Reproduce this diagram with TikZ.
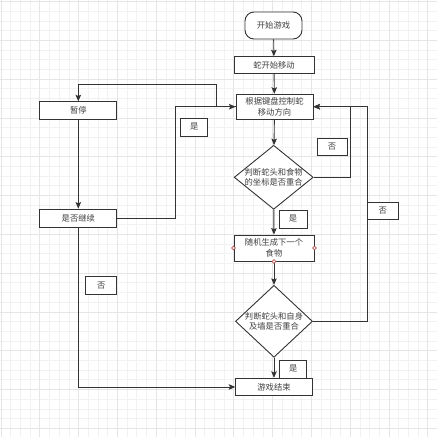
\documentclass[tikz,border=0pt]{standalone}
\usepackage{fontspec}
\newfontfamily\cjk{Noto Sans CJK SC}
\usetikzlibrary{arrows.meta,shapes.geometric}
\definecolor{ln}{HTML}{333333}
\definecolor{tx}{HTML}{404040}
\definecolor{gminor}{HTML}{F2F2F2}
\definecolor{gmajor}{HTML}{E5E5E5}
\definecolor{dotc}{HTML}{B85450}
\begin{document}
\begin{tikzpicture}[x=1pt,y=-1pt,
  txt/.style={text=tx,font=\cjk\fontsize{8.3}{10.4}\selectfont,align=center},
  box/.style={txt,draw=ln,fill=white,line width=0.9pt,inner sep=0pt},
  startbox/.style={box,rounded corners=9pt,minimum width=57pt,minimum height=27pt},
  procbox/.style={box,minimum width=78pt,minimum height=17pt},
  lbl/.style={box,minimum width=28pt,minimum height=18pt},
  dia/.style={diamond,draw=ln,fill=white,line width=0.9pt,inner sep=0pt,aspect=1.2},
  arr/.style={draw=ln,line width=0.9pt,-{Stealth[length=6.5pt,width=5.5pt,inset=1.2pt]}},
  dot/.style={draw=dotc,fill=white,line width=0.7pt}]
\useasboundingbox (0,0) rectangle (437,437);
\fill[white] (0,0) rectangle (437,437);
% grid
\foreach \k in {0,...,45}{
  \draw[gminor,line width=0.8pt] (1+\k*9.7,0) -- (1+\k*9.7,437);
  \draw[gminor,line width=0.8pt] (0,1.5+\k*9.7) -- (437,1.5+\k*9.7);
}
\foreach \k in {0,4,...,44}{
  \draw[gmajor,line width=0.8pt] (1+\k*9.7,0) -- (1+\k*9.7,437);
  \draw[gmajor,line width=0.8pt] (0,1.5+\k*9.7) -- (437,1.5+\k*9.7);
}
% nodes
\node[startbox] (start) at (273.5,25.5) {开始游戏};
\node[procbox,minimum width=80pt,minimum height=16.5pt] (move) at (274,65) {蛇开始移动};
\node[procbox,minimum width=77pt,minimum height=25pt] (ctrl) at (274.5,106.7) {根据键盘控制蛇\\移动方向};
\node[dia,minimum width=79pt,minimum height=64pt,label={[txt,font=\cjk\fontsize{8.3}{9.8}\selectfont]center:判断蛇头和食物\\的坐标是否重合}] (d1) at (273.7,177.3) {};
\node[procbox,minimum width=80pt,minimum height=26pt] (rand) at (274,248) {随机生成下一个\\食物};
\node[dia,minimum width=77pt,minimum height=72pt,label={[txt,font=\cjk\fontsize{8.3}{10}\selectfont]center:判断蛇头和自身\\及墙是否重合}] (d2) at (274,321.3) {};
\node[procbox,minimum width=76.5pt,minimum height=17.5pt] (end) at (274,387) {游戏结束};
\node[procbox,minimum width=77pt,minimum height=17.5pt] (pause) at (78.3,110.5) {暂停};
\node[procbox,minimum width=77pt,minimum height=18.5pt] (cont) at (78.3,218.3) {是否继续};
% helper coordinates
\coordinate (r1) at (350.8,150);
\coordinate (r2) at (367.5,150);
\coordinate (p1) at (216.7,84);
\coordinate (c1) at (175.7,160);
% connectors
\draw[arr] (start) -- (move);
\draw[arr] (move) -- (ctrl);
\draw[arr] (ctrl) -- (d1);
\draw[arr] (d1) -- (rand);
\draw[arr] (rand) -- (d2);
\draw[arr] (d2) -- (end);
\draw[arr] (d1.east) -| (r1) |- (ctrl.east);
\draw[arr] (d2.east) -| (r2) |- (ctrl.east);
\draw[arr] (ctrl.west) -| (p1) -| (pause.north);
\draw[arr] (pause) -- (cont);
\draw[arr] (cont.east) -| (c1) |- (ctrl.west);
\draw[arr] (cont.south) |- (end.west);
% labels
\node[lbl,minimum width=27pt] (ly1) at (194.3,127) {是};
\node[lbl,minimum width=30pt,minimum height=17.5pt] (ln1) at (332,147) {否};
\node[lbl,minimum width=31pt,minimum height=17pt] (ln2) at (382.7,210.5) {否};
\node[lbl] (ly2) at (293,219) {是};
\node[lbl,minimum width=31pt,minimum height=17.5pt] (ln3) at (101.3,285.5) {否};
\node[lbl,minimum width=27pt] (ly3) at (293.3,369) {是};
% connection point markers
\draw[dot] (rand.west) circle[radius=1.9pt];
\draw[dot] (rand.east) circle[radius=1.9pt];
\draw[dot] (rand.south) circle[radius=1.9pt];
\end{tikzpicture}
\end{document}
